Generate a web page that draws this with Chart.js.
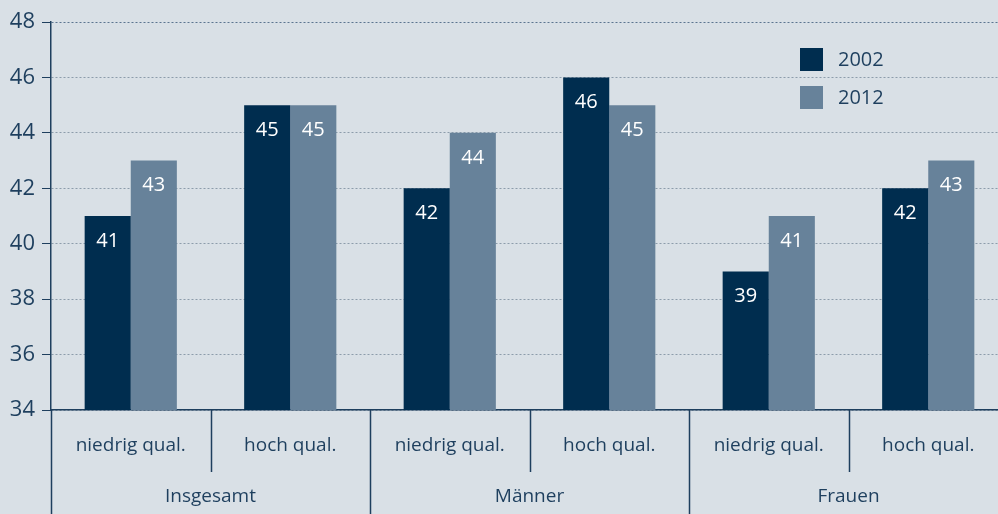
<!DOCTYPE html>
<html><head><meta charset="utf-8">
<script src="https://cdn.jsdelivr.net/npm/chart.js@4/dist/chart.umd.min.js"></script>
<style>
html,body{margin:0;padding:0;overflow:hidden;background:#d9e0e6;}
#wrap{width:1008px;height:514px;position:relative;}
</style></head><body>
<div id="wrap"><canvas id="c"></canvas></div>
<script>
const subCategories = ["niedrig qual.", "hoch qual.", "niedrig qual.", "hoch qual.", "niedrig qual.", "hoch qual."];
const groups = ["Insgesamt", "Männer", "Frauen"];
const seriesNames = ["2002", "2012"];
const values2002 = [41, 45, 42, 46, 39, 42];
const values2012 = [43, 45, 44, 45, 41, 43];
const yTicks = [34, 36, 38, 40, 42, 44, 46, 48];

const TEXT = '#1e3f5e';
const FONT = '"Open Sans", sans-serif';
const colors = ['#002d4f', '#67829a'];

const overlay = {
  id: 'overlay',
  afterDraw(chart) {
    const ctx = chart.ctx, ca = chart.chartArea;
    ctx.save();
    ctx.strokeStyle = '#1e3f5e';
    ctx.lineWidth = 1.5;
    const n = subCategories.length;
    const w = (ca.right - ca.left) / n;
    for (let i = 0; i <= n; i++) {
      const x = Math.round(ca.left + i * w) + 0.5;
      const y2 = (i % 2 === 0) ? chart.height : ca.bottom + 62;
      ctx.beginPath(); ctx.moveTo(x, ca.bottom); ctx.lineTo(x, y2); ctx.stroke();
    }
    ctx.fillStyle = TEXT;
    ctx.font = '19px ' + FONT;
    ctx.textAlign = 'center'; ctx.textBaseline = 'middle';
    groups.forEach((g, i) => {
      ctx.fillText(g, ca.left + (2 * i + 1) * w, 497);
    });
    ctx.fillStyle = '#ffffff';
    ctx.font = '20px ' + FONT;
    chart.data.datasets.forEach((ds, di) => {
      chart.getDatasetMeta(di).data.forEach((bar, j) => {
        ctx.fillText(String(ds.data[j]), bar.x, bar.y + 25);
      });
    });
    ctx.textAlign = 'left';
    ctx.font = '20px ' + FONT;
    chart.data.datasets.forEach((ds, di) => {
      const y = 48 + di * 38;
      ctx.fillStyle = ds.backgroundColor;
      ctx.fillRect(800, y, 23, 23);
      ctx.fillStyle = TEXT;
      ctx.fillText(ds.label, 838, y + 12);
    });
    ctx.restore();
  }
};

new Chart(document.getElementById('c'), {
  type: 'bar',
  data: {
    labels: subCategories,
    datasets: [
      { label: seriesNames[0], data: values2002, backgroundColor: colors[0] },
      { label: seriesNames[1], data: values2012, backgroundColor: colors[1] }
    ]
  },
  options: {
    responsive: true, maintainAspectRatio: false, animation: false,
    layout: { padding: { top: 22, right: 0, left: 0, bottom: 0 } },
    datasets: { bar: { categoryPercentage: 0.578, barPercentage: 1.0, borderWidth: 0 } },
    plugins: { legend: { display: false }, tooltip: { enabled: false } },
    scales: {
      x: {
        grid: { display: false },
        border: { color: '#1e3f5e', width: 1.5 },
        ticks: { color: TEXT, font: { family: FONT, size: 19 }, padding: 16, maxRotation: 0, autoSkip: false },
        afterFit(s) { s.height = 104; }
      },
      y: {
        min: 34, max: 48,
        afterBuildTicks(s) { s.ticks = yTicks.map(v => ({ value: v })); },
        ticks: { color: TEXT, font: { family: FONT, size: 22 }, padding: 7 },
        grid: {
          color: ctx => ctx.tick && ctx.tick.value === 48 ? '#5b7590' : '#8c9cab',
          tickColor: '#1e3f5e',
          tickBorderDash: [],
          tickLength: 9,
          lineWidth: 1
        },
        border: { color: '#1e3f5e', width: 1.5, dash: [2, 2] },
        afterFit(s) { s.width = 51; }
      }
    }
  },
  plugins: [overlay]
});
</script>
</body></html>
